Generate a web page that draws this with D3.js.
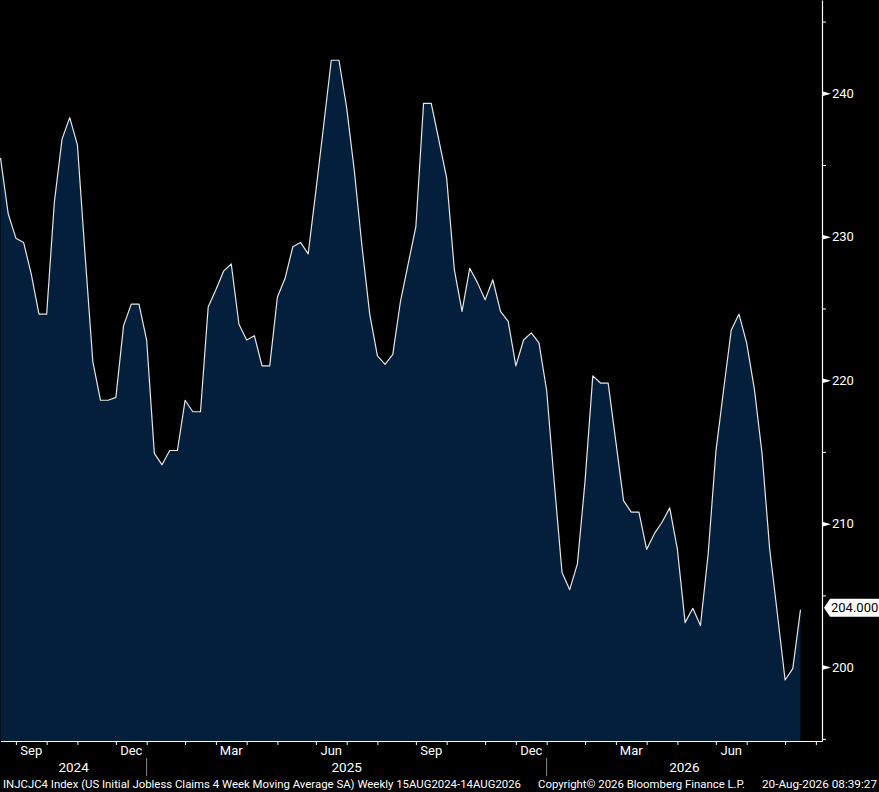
<!DOCTYPE html>
<html>
<head>
<meta charset="utf-8">
<script src="https://cdn.jsdelivr.net/npm/d3@7"></script>
<style>
    body { margin: 0; background: #000; }
    svg { display: block; }
    text { font-family: Roboto, "Liberation Sans", Arial, sans-serif; fill: #fff; }
</style>
</head>
<body>
<div id="chart"></div>
<script>

// weekly 4wk moving average, week ending Saturday
var firstWeek = "2024-08-17";

var claims = [
    235.5, 231.6, 229.9, 229.6, 227.4, 224.6, 224.6, 232.4, 236.8, 238.3,
    236.4, 228.7, 221.3, 218.6, 218.6, 218.8, 223.8, 225.3, 225.3, 222.8,
    214.9, 214.1, 215.1, 215.1, 218.6, 217.8, 217.8, 225.1, 226.3, 227.6,
    228.1, 223.9, 222.8, 223.1, 221.0, 221.0, 225.8, 227.1, 229.3, 229.6,
    228.8, 233.2, 237.7, 242.3, 242.3, 239.0, 234.6, 229.3, 224.6, 221.7,
    221.1, 221.8, 225.5, 228.1, 230.7, 239.3, 239.3, 236.7, 234.1, 227.7,
    224.8, 227.8, 226.8, 225.6, 227.0, 224.8, 224.1, 221.0, 222.8, 223.3,
    222.6, 219.3, 212.8, 206.6, 205.4, 207.2, 213.0, 220.3, 219.8, 219.8,
    215.7, 211.6, 210.8, 210.8, 208.2, 209.3, 210.1, 211.1, 208.2, 203.1,
    204.1, 202.9, 207.9, 215.0, 219.3, 223.5, 224.6, 222.6, 219.4, 214.9,
    208.2, 203.7, 199.1, 199.9, 204.0
];

var majorTicks = [200, 210, 220, 230, 240];
var minorTicks = [195, 205, 215, 225, 235, 245];
var labelledMonths = ["Sep", "Dec", "Mar", "Jun"];
var years = [2024, 2025, 2026];

var footerTitle = "INJCJC4 Index (US Initial Jobless Claims 4 Week Moving Average SA) Weekly 15AUG2024-14AUG2026";
var footerCopy = "Copyright\u00A9 2026 Bloomberg Finance L.P.";
var footerStamp = "20-Aug-2026 08:39:27";


var width = 879, height = 792;
var plotRight = 822, plotBottom = 741;

var parseDate = d3.timeParse("%Y-%m-%d");
var start = parseDate(firstWeek);
var dates = claims.map(function(d, i) { return d3.timeDay.offset(start, 7 * i); });
var data = claims.map(function(d, i) { return {date: dates[i], value: d}; });

var svg = d3.select("#chart").append("svg")
    .attr("width", width)
    .attr("height", height);

svg.append("rect")
    .attr("width", width)
    .attr("height", height)
    .attr("fill", "#000");

// scales
var x = d3.scaleTime()
    .domain([dates[0], d3.timeHour.offset(dates[dates.length - 1], 470)])
    .range([0.5, plotRight]);

var y = d3.scaleLinear()
    .domain([194.85, 246.5])
    .range([plotBottom, 0]);

// area + line
var area = d3.area()
    .x(function(d) { return x(d.date); })
    .y0(plotBottom)
    .y1(function(d) { return y(d.value); });

var line = d3.line()
    .x(function(d) { return x(d.date); })
    .y(function(d) { return y(d.value); });

svg.append("path")
    .datum(data)
    .attr("d", area)
    .attr("fill", "#031f3c");

svg.append("path")
    .datum(data)
    .attr("d", line)
    .attr("fill", "none")
    .attr("stroke", "#e6e6e6")
    .attr("stroke-width", 1.2)
    .attr("stroke-linejoin", "round");

// x axis: month ticks snap to the last weekly point on or before the 1st
var months = d3.timeMonth.range(d3.timeMonth.ceil(x.domain()[0]), x.domain()[1]);
var monthTicks = months.map(function(m) { return d3.timeSaturday.floor(m); });

var xAxis = svg.append("g")
    .attr("transform", "translate(0," + plotBottom + ")")
    .call(d3.axisBottom(x)
        .tickValues(monthTicks)
        .tickSize(4)
        .tickSizeOuter(0)
        .tickFormat(""));

xAxis.select(".domain").attr("stroke", "#fff").attr("stroke-width", 1.2);
xAxis.selectAll(".tick line").attr("stroke", "#fff");

var fmtMonth = d3.timeFormat("%b");
for (var i = 0; i < months.length - 1; i++) {
    var name = fmtMonth(months[i]);
    if (labelledMonths.indexOf(name) < 0) continue;
    svg.append("text")
        .attr("x", (x(monthTicks[i]) + x(monthTicks[i + 1])) / 2)
        .attr("y", 755)
        .attr("text-anchor", "middle")
        .attr("font-size", 13)
        .text(name);
}

// year bands
var yearEdges = [x.range()[0]];
years.slice(1).forEach(function(yr) {
    yearEdges.push(x(d3.timeSaturday.floor(new Date(yr, 0, 1))));
});
yearEdges.push(plotRight);

years.slice(1).forEach(function(yr, i) {
    svg.append("line")
        .attr("x1", yearEdges[i + 1])
        .attr("x2", yearEdges[i + 1])
        .attr("y1", 758)
        .attr("y2", 776)
        .attr("stroke", "#8a8a8a");
});

years.forEach(function(yr, i) {
    svg.append("text")
        .attr("x", (yearEdges[i] + yearEdges[i + 1]) / 2)
        .attr("y", 772)
        .attr("text-anchor", "middle")
        .attr("font-size", 13.5)
        .text(yr);
});

// y axis on the right
var yMinor = svg.append("g")
    .attr("transform", "translate(" + plotRight + ",0)")
    .call(d3.axisRight(y)
        .tickValues(minorTicks)
        .tickSize(4)
        .tickSizeOuter(0)
        .tickFormat(""));

yMinor.select(".domain").attr("stroke", "#fff").attr("stroke-width", 1.2);
yMinor.selectAll(".tick line").attr("stroke", "#fff");

var yMajor = svg.append("g")
    .attr("transform", "translate(" + plotRight + ",0)")
    .call(d3.axisRight(y)
        .tickValues(majorTicks)
        .tickSize(0)
        .tickPadding(10)
        .tickFormat(d3.format("d")));

yMajor.select(".domain").remove();
yMajor.selectAll(".tick text")
    .attr("fill", "#fff")
    .attr("font-size", 13)
    .attr("font-family", "Roboto, 'Liberation Sans', Arial, sans-serif");

yMajor.selectAll(".tick").append("path")
    .attr("d", "M0,-2.5L9,0L0,2.5Z")
    .attr("fill", "#fff");

// last value tag
var last = data[data.length - 1];
var tagY = y(last.value) - 2;

svg.append("path")
    .attr("d", "M" + (plotRight + 2) + "," + tagY +
        "L" + (plotRight + 8) + "," + (tagY - 9) +
        "L" + width + "," + (tagY - 9) +
        "L" + width + "," + (tagY + 9) +
        "L" + (plotRight + 8) + "," + (tagY + 9) + "Z")
    .attr("fill", "#fff");

svg.append("text")
    .attr("x", plotRight + 9)
    .attr("y", tagY + 4.5)
    .attr("font-size", 13)
    .style("fill", "#000")
    .text(d3.format(".3f")(last.value));

// footer
var footer = [
    {text: footerTitle, x: 3, w: 518},
    {text: footerCopy, x: 538, w: 207},
    {text: footerStamp, x: 762, w: 115}
];

svg.selectAll("text.footer")
    .data(footer)
    .enter().append("text")
    .attr("class", "footer")
    .attr("x", function(d) { return d.x; })
    .attr("y", 788)
    .attr("font-size", 11.5)
    .attr("textLength", function(d) { return d.w; })
    .attr("lengthAdjust", "spacingAndGlyphs")
    .text(function(d) { return d.text; });

</script>
</body>
</html>
